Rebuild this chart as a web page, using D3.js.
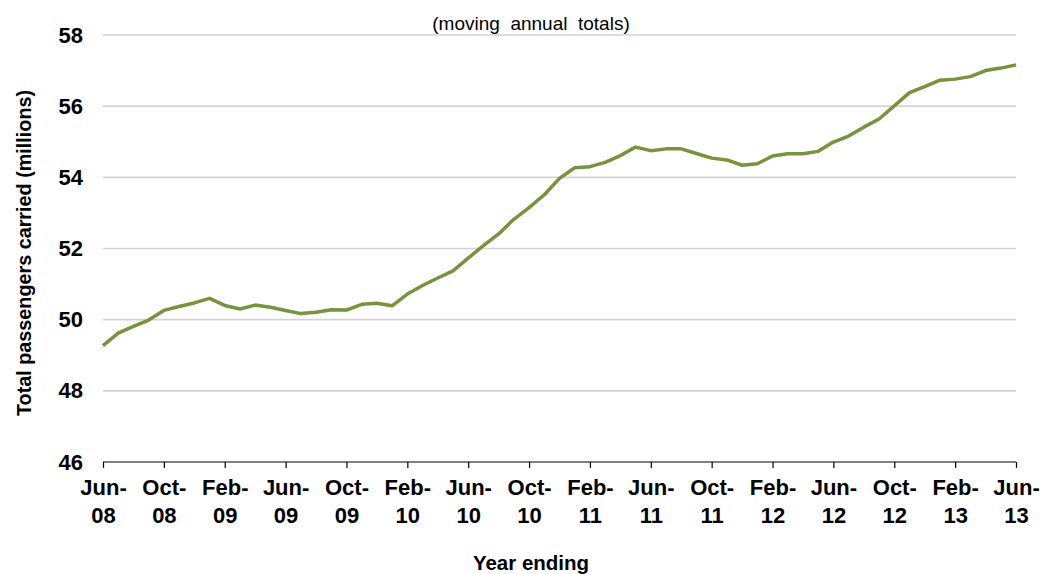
<!DOCTYPE html>
<html>
<head>
<meta charset="utf-8">
<script src="https://cdn.jsdelivr.net/npm/d3@7"></script>
<style>
  html, body { margin: 0; padding: 0; background: #fff; }
  svg { display: block; }
  text { font-family: "Liberation Sans", Arial, sans-serif; fill: #000; }
</style>
</head>
<body>
<svg id="chart" width="1041" height="574"></svg>
<script>
// ---- Data ----
const months = [
  "Jun-08","Jul-08","Aug-08","Sep-08","Oct-08","Nov-08","Dec-08","Jan-09","Feb-09","Mar-09","Apr-09","May-09",
  "Jun-09","Jul-09","Aug-09","Sep-09","Oct-09","Nov-09","Dec-09","Jan-10","Feb-10","Mar-10","Apr-10","May-10",
  "Jun-10","Jul-10","Aug-10","Sep-10","Oct-10","Nov-10","Dec-10","Jan-11","Feb-11","Mar-11","Apr-11","May-11",
  "Jun-11","Jul-11","Aug-11","Sep-11","Oct-11","Nov-11","Dec-11","Jan-12","Feb-12","Mar-12","Apr-12","May-12",
  "Jun-12","Jul-12","Aug-12","Sep-12","Oct-12","Nov-12","Dec-12","Jan-13","Feb-13","Mar-13","Apr-13","May-13",
  "Jun-13"
];
const passengers = [
  49.27, 49.62, 49.81, 49.99, 50.26, 50.37, 50.47, 50.60, 50.40, 50.30, 50.41, 50.35,
  50.26, 50.17, 50.21, 50.28, 50.27, 50.43, 50.46, 50.39, 50.72, 50.96, 51.17, 51.37,
  51.73, 52.08, 52.41, 52.82, 53.15, 53.51, 53.97, 54.27, 54.30, 54.42, 54.61, 54.85,
  54.75, 54.80, 54.80, 54.67, 54.54, 54.49, 54.34, 54.38, 54.60, 54.66, 54.66, 54.73,
  54.99, 55.16, 55.41, 55.64, 56.01, 56.38, 56.55, 56.73, 56.76, 56.83, 57.00, 57.07,
  57.16
];
const xTickLabels = ["Jun-08","Oct-08","Feb-09","Jun-09","Oct-09","Feb-10","Jun-10","Oct-10",
  "Feb-11","Jun-11","Oct-11","Feb-12","Jun-12","Oct-12","Feb-13","Jun-13"];
const yTicks = [46, 48, 50, 52, 54, 56, 58];

const subtitle = "(moving  annual  totals)";
const yTitle = "Total passengers carried (millions)";
const xTitle = "Year ending";

// ---- Layout ----
const svg = d3.select("#chart");
const plotLeft = 103, plotRight = 1016, plotTop = 35, plotBottom = 462;

const x = d3.scalePoint().domain(months).range([plotLeft, plotRight]);
const y = d3.scaleLinear().domain([46, 58]).range([plotBottom, plotTop]);

// gridlines
svg.append("g")
  .selectAll("line")
  .data(yTicks.filter(d => d !== 46))
  .join("line")
  .attr("x1", plotLeft).attr("x2", plotRight)
  .attr("y1", d => y(d)).attr("y2", d => y(d))
  .attr("stroke", "#d3d3d3")
  .attr("stroke-width", 1.6);

// y axis labels (no axis line)
const yAxis = d3.axisLeft(y).tickValues(yTicks).tickSize(0).tickPadding(20);
const gy = svg.append("g").attr("transform", `translate(${plotLeft},0)`).call(yAxis);
gy.select(".domain").remove();
gy.selectAll("text")
  .style("font-family", "'Liberation Sans', Arial, sans-serif")
  .style("font-size", "22px")
  .style("font-weight", "bold")
  .attr("fill", "#000");

// x axis
const xAxis = d3.axisBottom(x)
  .tickValues(xTickLabels)
  .tickSize(6)
  .tickSizeOuter(0)
  .tickFormat("");
const gx = svg.append("g").attr("transform", `translate(0,${plotBottom})`).call(xAxis);
gx.select(".domain").attr("stroke", "#000").attr("stroke-width", 1.2)
  .attr("d", `M${plotLeft},0H${plotRight}`);
gx.selectAll(".tick line").attr("stroke", "#000").attr("stroke-width", 1.2);
gx.selectAll(".tick").each(function(d) {
  const parts = d.split("-");
  const t = d3.select(this).append("text")
    .attr("text-anchor", "middle")
    .style("font-family", "'Liberation Sans', Arial, sans-serif")
    .style("font-size", "22px")
    .style("font-weight", "bold")
    .attr("fill", "#000");
  t.append("tspan").attr("x", 0).attr("y", 33).text(parts[0] + "-");
  t.append("tspan").attr("x", 0).attr("y", 61).text(parts[1]);
});

// line
const line = d3.line()
  .x((d, i) => x(months[i]))
  .y(d => y(d));
svg.append("path")
  .datum(passengers)
  .attr("d", line)
  .attr("fill", "none")
  .attr("stroke", "#77933c")
  .attr("stroke-width", 3.5)
  .attr("stroke-linejoin", "round");

// titles
svg.append("text")
  .attr("x", 531).attr("y", 30)
  .attr("text-anchor", "middle")
  .style("font-size", "19px")
  .style("white-space", "pre")
  .attr("xml:space", "preserve")
  .text(subtitle);

svg.append("text")
  .attr("x", 531).attr("y", 570)
  .attr("text-anchor", "middle")
  .style("font-size", "20.5px")
  .style("font-weight", "bold")
  .text(xTitle);

svg.append("text")
  .attr("transform", "translate(31,253) rotate(-90)")
  .attr("text-anchor", "middle")
  .style("font-size", "19.8px")
  .style("font-weight", "bold")
  .text(yTitle);
</script>
</body>
</html>
